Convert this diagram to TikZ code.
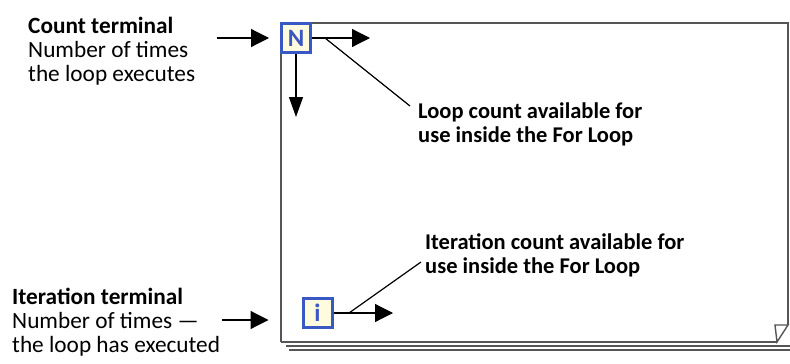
\documentclass[tikz,border=0pt]{standalone}
\usepackage{fontspec}
\setmainfont{Carlito}
\usetikzlibrary{positioning,arrows.meta,calc}
\definecolor{termblue}{RGB}{58,88,196}
\definecolor{termfill}{RGB}{255,251,222}
\definecolor{framegray}{RGB}{85,85,85}
\tikzset{
  >={Triangle[length=18pt,width=18pt]},
  terminal/.style={draw=termblue,line width=3pt,fill=termfill,minimum size=29pt,
    inner sep=0pt,text=termblue,font=\fontsize{25}{25}\selectfont\bfseries},
  loopframe/.style={draw=framegray,line width=1.4pt},
  leader/.style={line width=1.2pt},
  sidelabel/.style={align=left,inner sep=0pt,anchor=base west,
    font=\fontsize{23.3}{24}\selectfont},
  notelabel/.style={align=left,inner sep=0pt,anchor=base west,
    font=\fontsize{22.5}{24}\selectfont\bfseries},
}

\begin{document}
\begin{tikzpicture}[x=1pt,y=-1pt]
\useasboundingbox (0,0) rectangle (790,364);

% for loop frame with folded corner
\draw[loopframe] (281,342) -- (281,23) -- (788,23) -- (788,325);
\draw[loopframe] (281,342) -- (777,342);
\draw[loopframe] (775,325) -- (788,325) -- (777,342) -- cycle;
\draw[loopframe] (286,346) -- (790,346);
\draw[loopframe] (289,350) -- (790,350);

% terminals
\node[terminal] (countterm) at (296,38) {N};
\node[terminal] (iterterm) at (317.5,313) {i};

% labels (anchored at the baseline of the last line)
\node[sidelabel] (countlbl) at (28,81) {\textbf{Count terminal}\\Number of times\\the loop executes};
\node[sidelabel] (iterlbl) at (12,352) {\textbf{Iteration terminal}\\Number of times ---\\the loop has executed};
\node[notelabel] (loopcnt) at (418,142) {Loop count available for\\use inside the For Loop};
\node[notelabel] (itercnt) at (425,273) {Iteration count available for\\use inside the For Loop};

\coordinate (cin) at (217,38);
\coordinate (iin) at (222,320);
\coordinate (cout) at (370,38);
\coordinate (cdown) at (296,117);
\coordinate (iout) at (393,313);
\coordinate (ctap) at (325,38);
\coordinate (cnote) at (410,106);
\coordinate (itap) at (349,313);
\coordinate (inote) at (421,262);

\draw[leader,->,shorten >=11pt] (cin) -- (countterm.west);
\draw[leader,->,shorten >=33pt] (iin) -- (iin -| iterterm.west);
\draw[leader,->] (countterm.east) -- (cout);
\draw[leader,-{Triangle[length=20pt,width=14pt]}] (countterm.south) -- (cdown);
\draw[leader,->] (iterterm.east) -- (iout);
\draw[leader] (ctap) -- (cnote);
\draw[leader] (itap) -- (inote);

\end{tikzpicture}
\end{document}
